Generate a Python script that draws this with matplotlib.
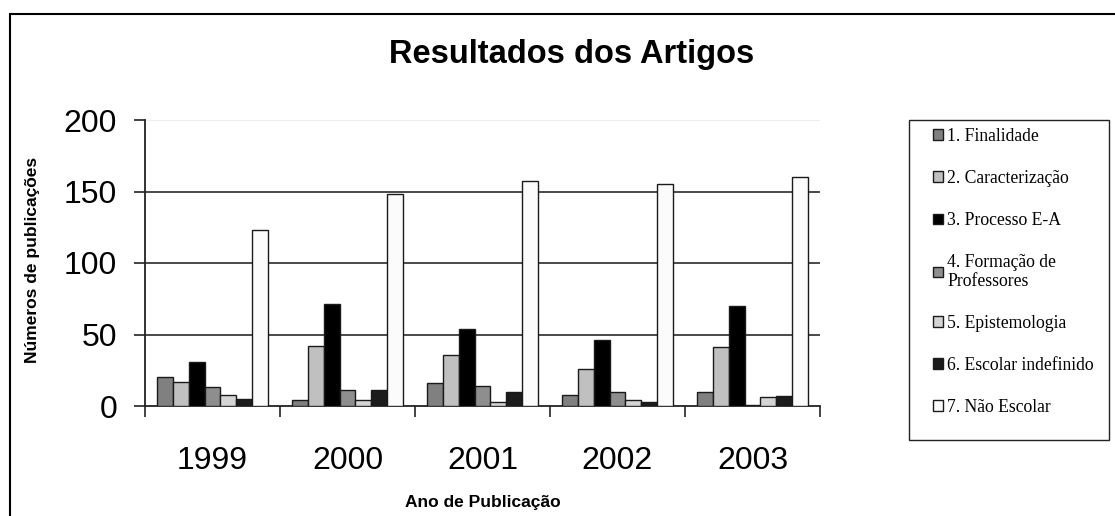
import numpy as np
import matplotlib
matplotlib.use("Agg")
import matplotlib.pyplot as plt
from matplotlib.patches import Rectangle

# data
anos = ["1999", "2000", "2001", "2002", "2003"]
categorias = [
    "1. Finalidade",
    "2. Caracterização",
    "3. Processo E-A",
    "4. Formação de\nProfessores",
    "5. Epistemologia",
    "6. Escolar indefinido",
    "7. Não Escolar",
]
finalidade = [20, 4, 16, 8, 10]
caracterizacao = [17, 42, 36, 26, 41]
processo = [31, 71, 54, 46, 70]
formacao = [13, 11, 14, 10, 1]
epistemologia = [8, 4, 3, 4, 6]
escolar_indef = [5, 11, 10, 3, 7]
nao_escolar = [123, 148, 157, 155, 160]

series = [finalidade, caracterizacao, processo, formacao,
          epistemologia, escolar_indef, nao_escolar]
cores = ["#808080", "#c0c0c0", "#000000", "#8e8e8e", "#d4d4d4", "#1c1c1c", "#fbfbfb"]

W, H = 1115, 516
fig = plt.figure(figsize=(W / 100, H / 100), dpi=100)
ax = fig.add_axes([145 / W, 1 - 406 / H, 675 / W, 286 / H])

x = np.arange(len(anos))
bw = 0.118
for j, (vals, cor, nome) in enumerate(zip(series, cores, categorias)):
    ax.bar(x + (j - 3) * bw, vals, width=bw, color=cor, edgecolor="#1a1a1a",
           linewidth=1.0, label=nome, zorder=3)

ax.set_xlim(-0.5, 4.5)
ax.set_ylim(0, 200)
ax.set_yticks([0, 50, 100, 150, 200])
ax.grid(axis="y", color="#3a3a3a", linewidth=1.3, zorder=0)
ticks = ax.yaxis.get_major_ticks()
ticks[-1].gridline.set_color("#ececec")
ticks[0].gridline.set_visible(False)

ax.set_xticks(x)
ax.set_xticklabels(anos)
ax.set_xticks(np.arange(-0.5, 5, 1), minor=True)
ax.tick_params(axis="x", which="major", length=0, pad=29, labelsize=23)
ax.tick_params(axis="x", which="minor", length=8, width=1.2, color="#222222", direction="out")
ax.tick_params(axis="y", length=8, width=1.2, color="#222222", pad=12, labelsize=23)

for s in ["top", "right"]:
    ax.spines[s].set_visible(False)
for s in ["left", "bottom"]:
    ax.spines[s].set_color("#222222")
    ax.spines[s].set_linewidth(1.3)

for lab in ax.get_xticklabels() + ax.get_yticklabels():
    lab.set_family("Liberation Sans")

ax.set_ylabel("Números de publicações", family="Liberation Sans",
              fontweight="bold", fontsize=12.5)
ax.yaxis.set_label_coords(-0.155, 0.51)
ax.set_xlabel("Ano de Publicação", family="Liberation Sans",
              fontweight="bold", fontsize=12.5)
ax.xaxis.set_label_coords(0.5, -0.31)

fig.text(572 / W, 1 - 54 / H, "Resultados dos Artigos", ha="center", va="center",
         family="Liberation Sans", fontweight="bold", fontsize=23.5)

# legend box and entries
fig.patches.append(Rectangle((909 / W, 1 - 440 / H), 200 / W, 320 / H,
                             transform=fig.transFigure, fill=False,
                             edgecolor="#222222", linewidth=1.0))
leg = ax.legend(loc="upper left", bbox_to_anchor=(933 / W, 1 - 128 / H),
                bbox_transform=fig.transFigure, frameon=False,
                prop={"family": "Liberation Serif", "size": 12.7},
                handlelength=0.55, handleheight=0.55, handletextpad=0.25,
                labelspacing=1.42, borderpad=0, borderaxespad=0)
for t in leg.get_texts():
    t.set_linespacing(1.12)

# outer chart frame
fig.patches.append(Rectangle((10 / W, -0.1), 1.2, 1.1 - 14 / H,
                             transform=fig.transFigure, fill=False,
                             edgecolor="black", linewidth=1.5))

fig.savefig("out.png", dpi=100)
